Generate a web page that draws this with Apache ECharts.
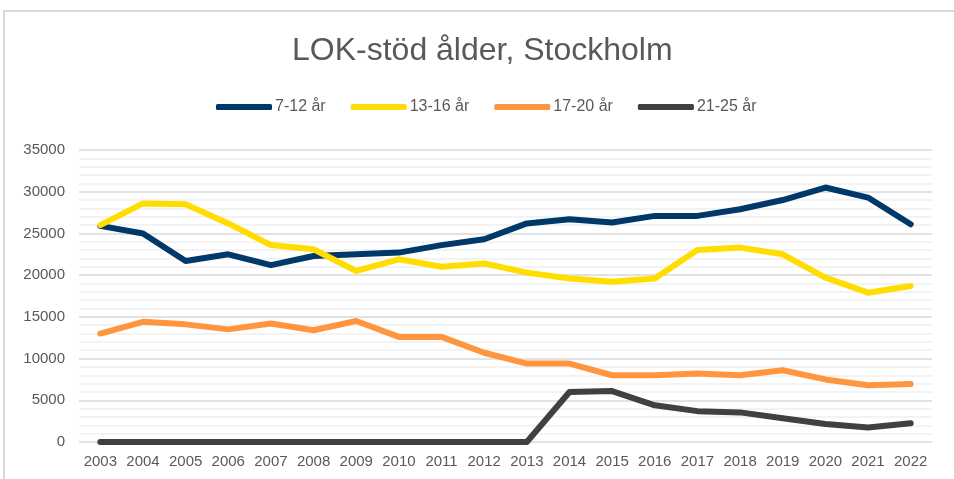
<!DOCTYPE html>
<html>
<head>
	<meta charset="UTF-8">
	<title>LOK-stöd ålder, Stockholm</title>
	<style type="text/css">
		html, body {
			margin: 0;
			padding: 0;
			background: #fff;
			overflow: hidden;
		}
		.frame {
			position: absolute;
			left: 3px;
			top: 10px;
			width: 1000px;
			height: 1000px;
			border-left: 2px solid #d9d9d9;
			border-top: 2px solid #d9d9d9;
		}
		#chart {
			position: absolute;
			left: 0;
			top: 0;
			width: 954px;
			height: 479px;
		}
	</style>
</head>
<body>
	<div class="frame"></div>
	<div id="chart"></div>

	<script type="text/javascript" src="https://cdn.jsdelivr.net/npm/echarts@6/dist/echarts.min.js"></script>
	<script type="text/javascript">
		// data
		var years = ['2003','2004','2005','2006','2007','2008','2009','2010','2011','2012',
			'2013','2014','2015','2016','2017','2018','2019','2020','2021','2022']
		var names = ['7-12 år', '13-16 år', '17-20 år', '21-25 år']
		var colors = ['#01386a', '#ffdd00', '#ff963f', '#404040']

		var age7to12 = [25900, 25000, 21700, 22500, 21200, 22300, 22500, 22700, 23600, 24300,
			26200, 26700, 26300, 27100, 27100, 27900, 29000, 30500, 29300, 26100]
		var age13to16 = [26000, 28600, 28500, 26200, 23600, 23100, 20500, 21900, 21000, 21400,
			20300, 19600, 19200, 19600, 23000, 23300, 22500, 19700, 17900, 18700]
		var age17to20 = [13000, 14400, 14100, 13500, 14200, 13400, 14500, 12600, 12600, 10700,
			9400, 9400, 8000, 8000, 8200, 8000, 8600, 7500, 6800, 6950]
		var age21to25 = [0, 0, 0, 0, 0, 0, 0, 0, 0, 0,
			0, 6000, 6100, 4400, 3700, 3550, 2850, 2150, 1750, 2250]

		var chart = echarts.init(document.getElementById('chart'), null, {renderer: 'canvas'})

		var textColor = '#595959'
		var font = 'Liberation Sans, Arial, sans-serif'

		function lineSeries (i, data) {
			return {
				name: names[i],
				type: 'line',
				data: data,
				showSymbol: false,
				symbol: 'none',
				animation: false,
				lineStyle: {
					width: 6,
					color: colors[i],
					cap: 'round',
					join: 'round'
				},
				itemStyle: {color: colors[i]}
			}
		}

		var option = {
			animation: false,
			title: {
				text: 'LOK-stöd ålder, Stockholm',
				left: 287,
				top: 30,
				textStyle: {
					fontFamily: font,
					fontSize: 32,
					fontWeight: 'normal',
					color: textColor
				}
			},
			legend: {
				top: 94,
				left: 211,
				itemWidth: 56,
				itemHeight: 6,
				itemGap: 25,
				icon: 'roundRect',
				data: names,
				textStyle: {
					fontFamily: font,
					fontSize: 16,
					color: textColor,
					padding: [0, 0, 0, -2]
				}
			},
			grid: {
				left: 79,
				right: 22,
				top: 150,
				bottom: 37,
				containLabel: false
			},
			xAxis: {
				type: 'category',
				data: years,
				boundaryGap: true,
				axisLine: {show: false},
				axisTick: {show: false},
				axisLabel: {
					interval: 0,
					margin: 12,
					fontFamily: font,
					fontSize: 15,
					color: textColor
				}
			},
			yAxis: {
				type: 'value',
				min: 0,
				max: 35000,
				interval: 5000,
				axisLine: {show: false},
				axisTick: {show: false},
				axisLabel: {
					margin: 14,
					fontFamily: font,
					fontSize: 15,
					color: textColor,
					formatter: function (v) { return String(v) }
				},
				splitLine: {
					lineStyle: {color: '#d9d9d9', width: 1.5}
				},
				minorTick: {show: false, splitNumber: 5},
				minorSplitLine: {
					show: true,
					lineStyle: {color: '#f0f0f0', width: 1.5}
				}
			},
			series: [
				lineSeries(0, age7to12),
				lineSeries(1, age13to16),
				lineSeries(2, age17to20),
				lineSeries(3, age21to25)
			]
		}

		chart.setOption(option)
	</script>
</body>
</html>
